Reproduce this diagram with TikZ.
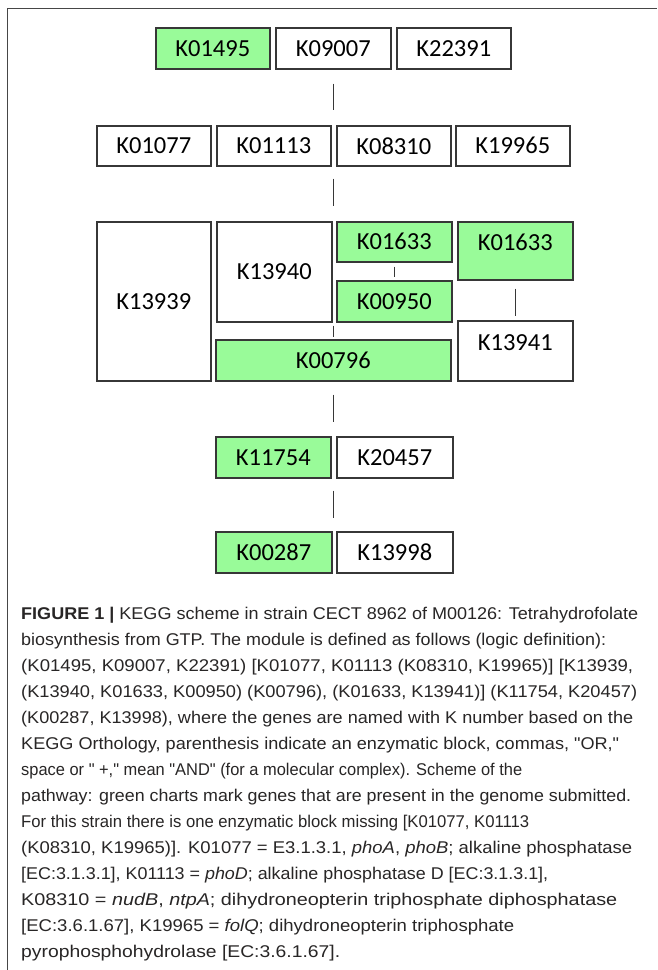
\documentclass[tikz,border=0pt]{standalone}
\usepackage{fontspec}
\setmainfont{Liberation Sans}[Ligatures=TeXOff]
\newfontfamily\boxfont{Carlito}
\usepackage{graphicx}
\definecolor{kgreen}{RGB}{153,251,153}
\definecolor{kline}{RGB}{55,55,55}
\definecolor{captxt}{RGB}{40,38,38}
\definecolor{frame}{RGB}{70,70,70}
\tikzset{
  kbox/.style={draw=kline, line width=1.6pt, fill=white, inner sep=0pt, anchor=north west,
    font=\boxfont\fontsize{24.5}{28}\selectfont, text=black},
  kg/.style={kbox, fill=kgreen},
  conn/.style={draw=kline, line width=1.4pt},
  capline/.style={anchor=base west, inner sep=0pt, font=\fontsize{17}{26}\selectfont, text=captxt},
}
\begin{document}
\begin{tikzpicture}[x=1pt,y=-1pt]
\useasboundingbox (0,0) rectangle (657,970);
\fill[white] (0,0) rectangle (657,970);
\draw[frame, line width=1.8pt] (7.5,970) -- (7.5,8.5) -- (657,8.5);

% row 1
\node[kg, minimum width=114pt, minimum height=41pt] (r1a) at (155,27) {K01495};
\node[kbox, minimum width=115pt, minimum height=41pt] (r1b) at (275,27) {K09007};
\node[kbox, minimum width=114pt, minimum height=41pt] (r1c) at (396,27) {K22391};
% row 2
\node[kbox, minimum width=114pt, minimum height=40pt] (r2a) at (96,125) {K01077};
\node[kbox, minimum width=114pt, minimum height=40pt] (r2b) at (216,125) {K01113};
\node[kbox, minimum width=114pt, minimum height=40pt] (r2c) at (336,125) {K08310};
\node[kbox, minimum width=114pt, minimum height=40pt] (r2d) at (455,125) {K19965};
% middle block
\node[kbox, minimum width=114pt, minimum height=159pt] (m1) at (96,221) {K13939};
\node[kbox, minimum width=115pt, minimum height=100pt] (m2) at (216,221) {K13940};
\node[kg, minimum width=115pt, minimum height=40pt] (m3) at (336,221) {K01633};
\node[kg, minimum width=115pt, minimum height=41pt] (m4) at (336,280) {K00950};
\node[kg, minimum width=235pt, minimum height=41pt] (m5) at (215,339) {K00796};
\node[kg, minimum width=115pt, minimum height=58pt, text depth=18pt] (m6) at (457,221) {K01633};
\node[kbox, minimum width=115pt, minimum height=60pt, text depth=16pt] (m7) at (457,320) {K13941};
% row 4
\node[kg, minimum width=115pt, minimum height=41pt] (r4a) at (215,436) {K11754};
\node[kbox, minimum width=116pt, minimum height=41pt] (r4b) at (336,436) {K20457};
% row 5
\node[kg, minimum width=116pt, minimum height=41pt] (r5a) at (215,531) {K00287};
\node[kbox, minimum width=116pt, minimum height=41pt] (r5b) at (336,531) {K13998};

% connectors
\draw[conn, shorten <=14pt, shorten >=15pt] (r1b.south) -- (r1b.south |- r2c.north);
\draw[conn, shorten <=12pt, shorten >=15pt] (r1b.south |- r2c.south) -- (r1b.south |- m1.north);
\draw[conn, shorten <=4pt, shorten >=3pt] (m3.south) -- (m4.north);
\draw[conn, shorten <=3pt, shorten >=2pt] (m5.north |- m2.south) -- (m5.north);
\draw[conn, shorten <=8pt, shorten >=4pt] (m6.south) -- (m7.north);
\draw[conn, shorten <=13pt, shorten >=14pt] (m5.south) -- (m5.south |- r4a.north);
\draw[conn, shorten <=12pt, shorten >=13pt] (m5.south |- r4a.south) -- (m5.south |- r5a.north);

% caption
\node[capline] (c1) at (21,619) {\resizebox{617pt}{\height}{\textbf{FIGURE 1 |} KEGG scheme in strain CECT 8962 of M00126: Tetrahydrofolate}};
\node[capline] (c2) at (21,645) {\resizebox{585pt}{\height}{biosynthesis from GTP. The module is defined as follows (logic definition):}};
\node[capline] (c3) at (21,671) {\resizebox{612pt}{\height}{(K01495, K09007, K22391) [K01077, K01113 (K08310, K19965)] [K13939,}};
\node[capline] (c4) at (21,697) {\resizebox{616pt}{\height}{(K13940, K01633, K00950) (K00796), (K01633, K13941)] (K11754, K20457)}};
\node[capline] (c5) at (21,723) {\resizebox{612pt}{\height}{(K00287, K13998), where the genes are named with K number based on the}};
\node[capline] (c6) at (21,749) {\resizebox{598pt}{\height}{KEGG Orthology, parenthesis indicate an enzymatic block, commas, "OR,"}};
\node[capline] (c7) at (21,775) {\resizebox{501pt}{\height}{space or " +," mean "AND" (for a molecular complex). Scheme of the}};
\node[capline] (c8) at (21,801) {\resizebox{610pt}{\height}{pathway: green charts mark genes that are present in the genome submitted.}};
\node[capline] (c9) at (21,827) {\resizebox{508pt}{\height}{For this strain there is one enzymatic block missing [K01077, K01113}};
\node[capline] (c10) at (21,853) {\resizebox{611pt}{\height}{(K08310, K19965)]. K01077 = E3.1.3.1, \textit{phoA}, \textit{phoB}; alkaline phosphatase}};
\node[capline] (c11) at (21,879) {\resizebox{527pt}{\height}{[EC:3.1.3.1], K01113 = \textit{phoD}; alkaline phosphatase D [EC:3.1.3.1],}};
\node[capline] (c12) at (21,905) {\resizebox{596pt}{\height}{K08310 = \textit{nudB}, \textit{ntpA}; dihydroneopterin triphosphate diphosphatase}};
\node[capline] (c13) at (21,931) {\resizebox{493pt}{\height}{[EC:3.6.1.67], K19965 = \textit{folQ}; dihydroneopterin triphosphate}};
\node[capline] (c14) at (21,957) {\resizebox{319pt}{\height}{pyrophosphohydrolase [EC:3.6.1.67].}};
\end{tikzpicture}
\end{document}
